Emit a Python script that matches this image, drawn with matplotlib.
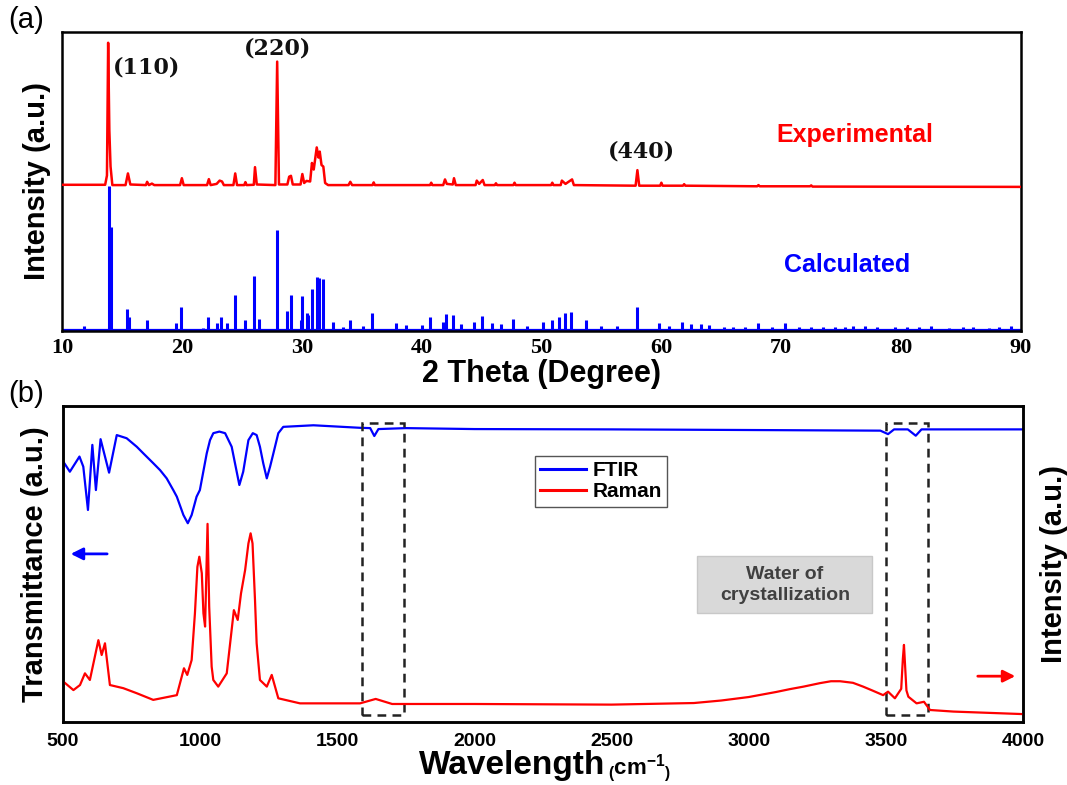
import numpy as np
import matplotlib.pyplot as plt
import matplotlib.transforms as mtransforms
from matplotlib.patches import Rectangle
from matplotlib.lines import Line2D

plt.rcParams['font.family'] = ['Liberation Sans', 'DejaVu Sans']
plt.rcParams['mathtext.fontset'] = 'custom'
plt.rcParams['mathtext.rm'] = 'Liberation Sans:bold'
plt.rcParams['mathtext.bf'] = 'Liberation Sans:bold'

# ---------------- XRD: measured pattern (2-theta, intensity a.u.) ----------------
exp_2theta = [10.0, 13.6, 13.75, 13.85, 13.95, 14.05, 14.2, 15.3, 15.5, 15.7,
              17.0, 17.1, 17.25, 17.5, 17.7, 19.85, 20.0, 20.15, 22.1, 22.25,
              22.4, 22.9, 23.15, 23.35, 23.5, 24.3, 24.45, 24.6, 25.2, 25.3,
              25.4, 26.0, 26.1, 26.25, 27.8, 27.95, 28.1, 28.8, 28.95, 29.1,
              29.25, 29.9, 30.05, 30.2, 30.4, 30.7, 30.85, 31.0, 31.25, 31.4,
              31.5, 31.65, 31.8, 31.95, 32.2, 33.9, 34.05, 34.2, 35.9, 36.0,
              36.1, 40.7, 40.8, 40.9, 41.8, 41.95, 42.1, 42.6, 42.7, 42.85,
              44.5, 44.6, 44.8, 45.1, 45.25, 46.1, 46.2, 46.3, 47.65, 47.75,
              47.85, 50.8, 50.9, 51.0, 51.6, 51.7, 52.0, 52.55, 52.7, 57.85,
              58.0, 58.15, 59.9, 60.0, 60.1, 61.8, 61.9, 62.0, 68.0, 68.1,
              68.2, 72.4, 72.5, 72.6, 90.0]
exp_int = [48.9, 48.9, 52.0, 96.4, 67.0, 55.0, 48.8, 48.8, 52.7, 49.0,
           48.8, 49.9, 48.8, 49.3, 48.8, 48.8, 51.1, 48.8, 48.8, 50.8,
           48.8, 49.2, 50.3, 50.0, 48.8, 48.8, 52.7, 48.8, 48.8, 49.8,
           48.8, 48.9, 54.8, 49.0, 48.8, 90.1, 49.0, 49.0, 51.6, 51.9,
           49.0, 49.0, 52.5, 49.5, 50.2, 50.0, 56.2, 54.0, 61.4, 58.0,
           60.0, 55.5, 55.0, 49.5, 48.8, 48.8, 49.9, 48.8, 48.8, 49.7,
           48.8, 48.8, 49.6, 48.8, 48.8, 50.7, 49.2, 49.0, 51.1, 48.8,
           48.8, 50.3, 49.2, 50.5, 48.8, 48.8, 49.4, 48.8, 48.8, 49.6,
           48.8, 48.8, 49.6, 48.8, 48.8, 50.3, 49.2, 50.7, 48.8, 48.6,
           53.8, 48.6, 48.6, 49.6, 48.6, 48.6, 49.1, 48.6, 48.4, 48.8,
           48.4, 48.4, 48.7, 48.3, 48.2]

# ---------------- XRD: calculated reflections ----------------
calc_2theta = [11.8, 13.9, 14.05, 15.45, 15.6, 17.05, 19.55, 19.9, 21.8, 22.2,
               22.9, 23.3, 23.8, 24.4, 25.25, 26.0, 26.4, 27.97, 28.8, 29.1,
               29.9, 30.0, 30.4, 30.5, 30.85, 31.3, 31.4, 31.8, 32.6, 33.4,
               34.0, 35.1, 35.9, 37.9, 38.7, 40.0, 40.7, 41.8, 42.0, 42.6,
               43.3, 44.4, 45.05, 45.9, 46.6, 47.6, 48.8, 50.1, 50.9, 51.5,
               52.0, 52.5, 53.7, 55.0, 56.3, 58.0, 59.8, 60.6, 61.75, 62.5,
               63.3, 64.0, 65.2, 66.0, 67.0, 68.05, 69.2, 70.3, 71.5, 72.5,
               73.5, 74.5, 75.3, 76.0, 77.0, 78.0, 79.5, 80.5, 81.5, 82.5,
               84.0, 85.2, 86.0, 87.3, 88.2, 89.2]
calc_int = [1.7, 48.5, 34.9, 7.3, 4.8, 3.7, 2.7, 8.1, 1.1, 4.8,
            2.7, 4.8, 2.7, 12.0, 3.7, 18.4, 3.9, 33.8, 6.8, 12.0,
            3.7, 11.8, 5.9, 5.4, 14.0, 18.0, 17.7, 17.3, 3.1, 1.4,
            3.7, 1.8, 6.1, 2.6, 2.0, 2.0, 4.6, 3.0, 5.7, 5.4,
            2.3, 3.1, 5.0, 2.7, 2.2, 4.1, 1.6, 3.0, 3.7, 4.8,
            6.1, 6.5, 3.7, 1.6, 1.8, 7.9, 2.7, 1.8, 3.0, 2.5,
            2.2, 2.0, 1.5, 1.5, 1.4, 2.8, 1.4, 2.8, 1.3, 1.5,
            1.2, 1.5, 1.4, 1.8, 1.8, 1.3, 1.5, 1.2, 1.3, 1.8,
            1.1, 1.3, 1.2, 1.1, 1.2, 1.8]
calc_base = 0.5

hkl_labels = ['(110)', '(220)', '(440)']
hkl_2theta = [14.25, 28.0, 58.3]
hkl_int = [88.0, 94.6, 59.9]

# ---------------- FTIR transmittance (wavenumber, a.u.) ----------------
ftir_wn = [501, 525, 560, 574, 591, 607, 620, 637, 668, 696,
           732, 769, 793, 829, 854, 878, 902, 915, 939, 955,
           969, 987, 999, 1024, 1036, 1048, 1070, 1091, 1115, 1127,
           1143, 1157, 1176, 1192, 1206, 1218, 1230, 1243, 1255, 1267,
           1285, 1303, 1413, 1583, 1620, 1635, 1650, 1750, 2000, 2500,
           3000, 3480, 3508, 3530, 3580, 3609, 3630, 4000]
ftir_t = [82.4, 79.2, 84.0, 80.8, 67.1, 87.7, 73.4, 89.5, 78.9, 90.8,
          89.8, 87.1, 85.0, 81.9, 79.7, 77.1, 73.4, 71.3, 65.5, 62.9,
          65.5, 71.3, 73.4, 85.0, 89.2, 91.4, 91.9, 91.4, 87.1, 81.9,
          75.0, 79.2, 89.2, 91.4, 90.8, 87.1, 81.9, 77.1, 80.8, 85.0,
          91.4, 93.4, 93.9, 93.1, 93.0, 90.5, 92.7, 93.0, 92.7, 92.6,
          92.4, 92.2, 91.1, 92.6, 92.6, 90.6, 92.6, 92.6]

# ---------------- Raman intensity (wavenumber, a.u.) ----------------
raman_wn = [501, 538, 562, 580, 598, 629, 641, 653, 671, 720,
            769, 829, 915, 941, 953, 969, 981, 990, 997, 1006,
            1012, 1018, 1027, 1033, 1042, 1048, 1066, 1097, 1123, 1137,
            1149, 1164, 1176, 1184, 1191, 1200, 1206, 1218, 1243, 1261,
            1285, 1364, 1583, 1640, 1700, 2000, 2500, 2800, 2900, 3000,
            3100, 3150, 3200, 3260, 3300, 3333, 3380, 3417, 3450, 3490,
            3508, 3533, 3556, 3562, 3566, 3570, 3575, 3582, 3612, 3639,
            3661, 3746, 4000]
raman_i = [12.8, 10.1, 11.7, 15.4, 13.3, 25.9, 21.2, 24.9, 11.7, 10.7,
           9.1, 7.0, 8.5, 17.0, 14.9, 19.6, 34.4, 49.1, 52.3, 47.1,
           34.4, 30.2, 62.7, 36.5, 17.5, 13.3, 11.2, 15.4, 35.4, 32.3,
           40.7, 48.1, 56.5, 59.7, 56.5, 38.6, 24.9, 13.3, 11.2, 14.9,
           7.5, 5.9, 5.9, 7.3, 5.7, 5.7, 5.5, 6.0, 6.8, 7.9,
           9.5, 10.4, 11.2, 12.3, 12.9, 12.9, 12.4, 11.2, 10.0, 8.5,
           9.6, 7.5, 10.5, 20.0, 24.4, 18.0, 10.0, 8.0, 5.9, 6.4,
           3.8, 3.3, 2.5]

water_bands = [(1590, 1742), (3500, 3655)]

W, H = 1067, 785
fig = plt.figure(figsize=(W / 100, H / 100), dpi=100)

serif_bold = dict(family='Liberation Serif', weight='bold')

# ================= (a) XRD =================
ax1 = fig.add_axes([62 / W, 1 - 331 / H, 959 / W, 299 / H])
ax1.plot(exp_2theta, exp_int, color='#ff0000', lw=1.8, zorder=3)
ax1.vlines(calc_2theta, calc_base, calc_int, color='#0000ff', lw=2.2)
ax1.axhline(calc_base, color='#0000ff', lw=1.6)
ax1.set_xlim(10, 90)
ax1.set_ylim(0, 100)
ax1.set_xticks(np.arange(10, 91, 10))
ax1.set_yticks([])
ax1.tick_params(axis='x', length=0, pad=5)
for lab in ax1.get_xticklabels():
    lab.set_fontproperties(serif_bold)
    lab.set_fontsize(16)
for sp in ax1.spines.values():
    sp.set_linewidth(1.8)
ax1.set_xlabel('2 Theta (Degree)', fontsize=22, fontweight='bold', labelpad=1)
ax1.set_ylabel('Intensity (a.u.)', fontsize=21, fontweight='bold', labelpad=8)

for lab, x, y in zip(hkl_labels, hkl_2theta, hkl_int):
    ha = 'left' if lab == '(110)' else 'center'
    ax1.text(x, y, lab, ha=ha, va='center', fontsize=16,
             family='DejaVu Serif', weight='bold', color='#111111')
ax1.text(76.1, 65.6, 'Experimental', color='#ff0000', fontsize=18,
         fontweight='bold', ha='center', va='center')
ax1.text(75.5, 22.1, 'Calculated', color='#0000ff', fontsize=18,
         fontweight='bold', ha='center', va='center')
fig.text(8 / W, 1 - 20 / H, '(a)', fontsize=21, ha='left', va='center')

# ================= (b) FTIR + Raman =================
ax2 = fig.add_axes([63 / W, 1 - 722 / H, 960 / W, 316 / H])
ax2r = ax2.twinx()
ax2.plot(ftir_wn, ftir_t, color='#0000ff', lw=1.6)
ax2r.plot(raman_wn, raman_i, color='#ff0000', lw=1.6)
for a in (ax2, ax2r):
    a.set_xlim(500, 4000)
    a.set_ylim(0, 100)
    a.set_yticks([])
    for sp in a.spines.values():
        sp.set_linewidth(1.8)
ax2.set_xticks(np.arange(500, 4001, 500))
ax2.tick_params(axis='x', length=0, pad=8)
for lab in ax2.get_xticklabels():
    lab.set_fontsize(14)
    lab.set_fontweight('bold')
ax2.set_ylabel('Transmittance (a.u.)', fontsize=21, fontweight='bold', labelpad=10)
ax2r.set_ylabel('Intensity (a.u.)', fontsize=21, fontweight='bold', labelpad=12)

fig.text(605 / W, 1 - 774 / H, 'Wavelength', fontsize=24, fontweight='bold',
         ha='right', va='baseline')
fig.text(608 / W, 1 - 774 / H, r'$\mathbf{{}_{(}cm^{-1}{}_{)}}$', fontsize=16,
         ha='left', va='baseline')
fig.text(8 / W, 1 - 394 / H, '(b)', fontsize=21, ha='left', va='center')

# dashed boxes around the water bands
trans = mtransforms.blended_transform_factory(ax2.transData, ax2.transAxes)
for lo, hi in water_bands:
    ax2.add_patch(Rectangle((lo, 0.022), hi - lo, 0.924, transform=trans,
                            fill=False, ec='#222222', lw=1.8,
                            ls=(0, (3.5, 2.5)), zorder=5))

# direction arrows for the two y scales
ax2.annotate('', xy=(518, 0.532), xytext=(671, 0.532), xycoords=trans,
             textcoords=trans,
             arrowprops=dict(arrowstyle='-|>', color='#0000ff', lw=2,
                             mutation_scale=18))
ax2.annotate('', xy=(3982, 0.145), xytext=(3825, 0.145), xycoords=trans,
             textcoords=trans,
             arrowprops=dict(arrowstyle='-|>', color='#ff0000', lw=2,
                             mutation_scale=18))

# legend
handles = [Line2D([], [], color='#0000ff', lw=2.2),
           Line2D([], [], color='#ff0000', lw=2.2)]
leg = ax2.legend(handles, ['FTIR', 'Raman'], loc='upper left',
                 bbox_to_anchor=(535 / W, 1 - 456 / H),
                 bbox_transform=fig.transFigure, fancybox=False,
                 prop=dict(size=15, weight='bold'), handlelength=2.2,
                 handletextpad=0.3, labelspacing=0.1, borderpad=0.25,
                 borderaxespad=0, framealpha=1)
leg.get_frame().set_edgecolor('#555555')
leg.get_frame().set_linewidth(1.0)

# annotation box
fig.patches.append(Rectangle((697 / W, 1 - 613 / H), 175 / W, 57 / H,
                             transform=fig.transFigure, fc='#d9d9d9',
                             ec='#c8c8c8', lw=1, zorder=1))
fig.text(785 / W, 1 - 585 / H, 'Water of\ncrystallization', fontsize=14,
         fontweight='bold', color='#404040', ha='center', va='center',
         linespacing=1.35, zorder=2)

fig.savefig('out.png', dpi=100)
